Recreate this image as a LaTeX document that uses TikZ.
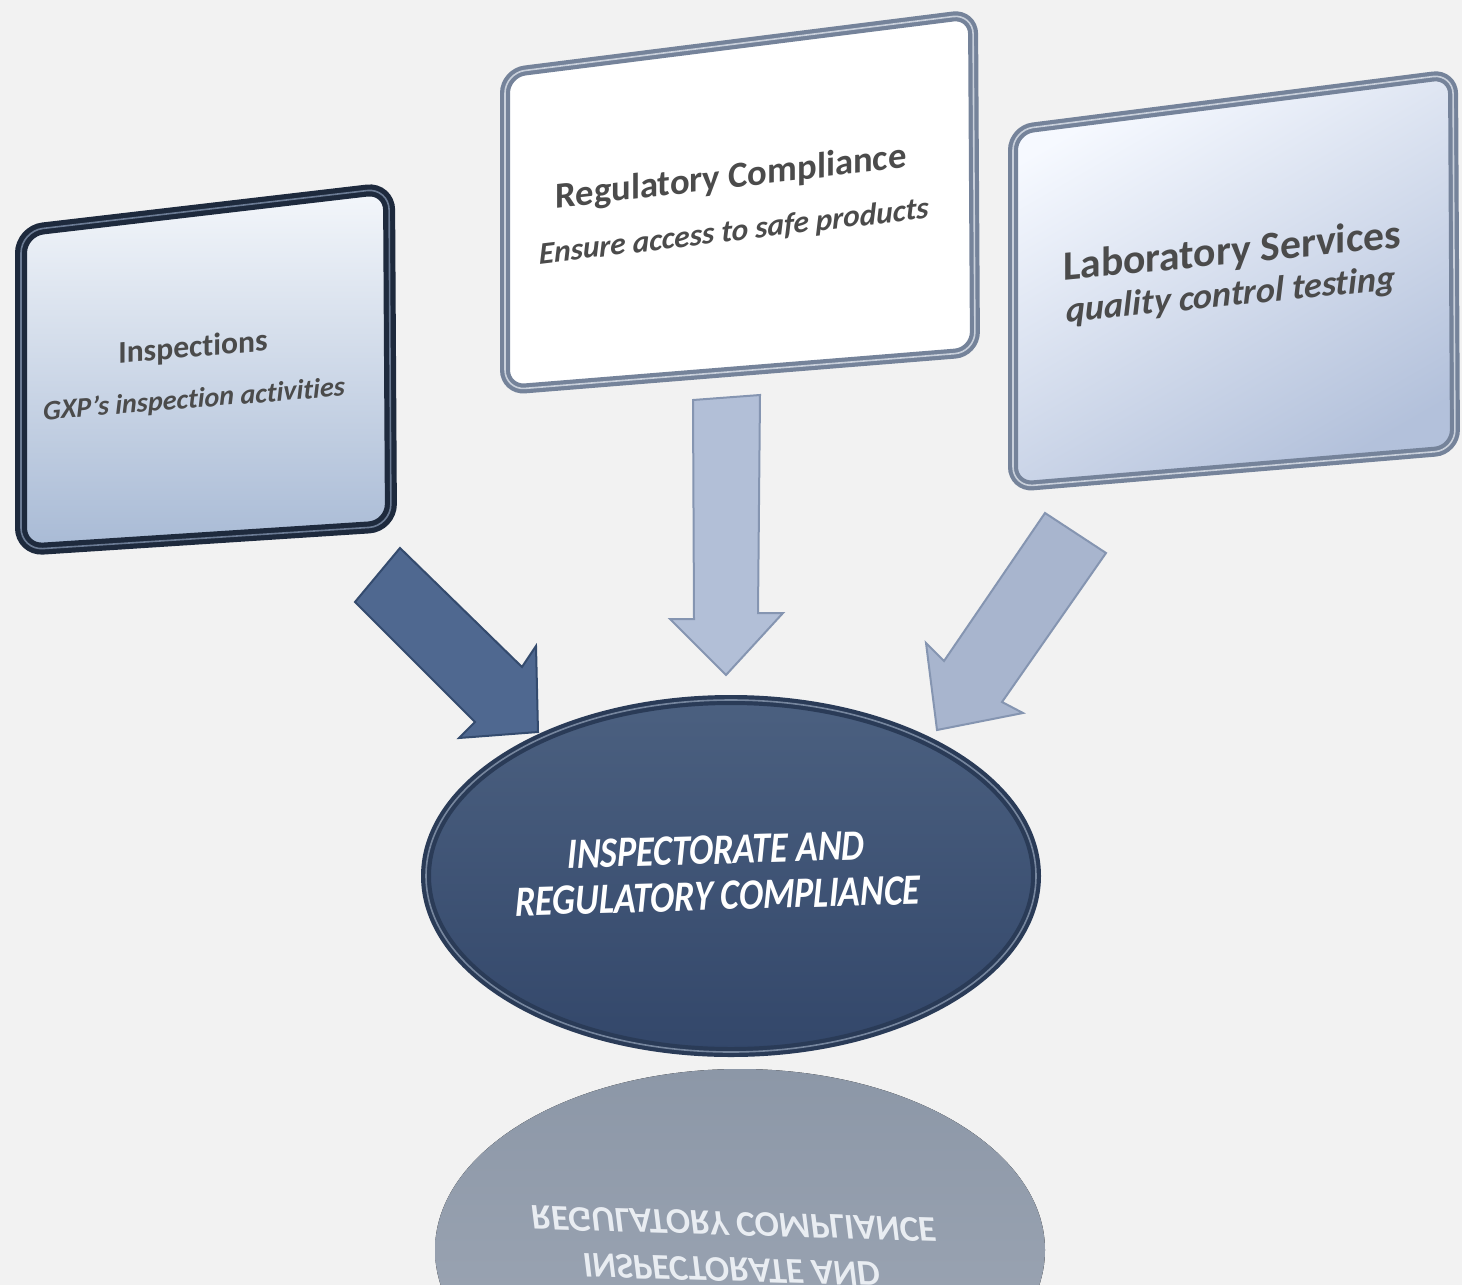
\documentclass[tikz,border=0pt]{standalone}
\usepackage{fontspec}
\setmainfont{Carlito}[Ligatures=NoCommon]
\usetikzlibrary{shapes.geometric}

\definecolor{bgpaper}{HTML}{F2F2F2}
\definecolor{navyframe}{HTML}{1E2A3D}
\definecolor{navyhi}{HTML}{6B7B94}
\definecolor{greyframe}{HTML}{75839A}
\definecolor{greyhi}{HTML}{C9D0DB}
\definecolor{palewhite}{HTML}{F4F7FB}
\definecolor{palemid}{HTML}{D8E3F2}
\definecolor{paleblue}{HTML}{A8BAD5}
\definecolor{labwhite}{HTML}{F6F9FF}
\definecolor{labblue}{HTML}{B3C1DB}
\definecolor{textgrey}{HTML}{4B4B4B}
\definecolor{arrowdark}{HTML}{4F6890}
\definecolor{arrowdarkline}{HTML}{344B6E}
\definecolor{arrowpale}{HTML}{B2BFD7}
\definecolor{arrowpaleline}{HTML}{8595B1}
\definecolor{arrowmid}{HTML}{A8B5CE}
\definecolor{coretop}{HTML}{4B6080}
\definecolor{corebot}{HTML}{33476A}
\definecolor{coreline}{HTML}{2A3B57}
\definecolor{corehi}{HTML}{8A99B0}
\definecolor{mirtop}{HTML}{8C97A7}
\definecolor{mirbot}{HTML}{A0A9B7}
\definecolor{mirtext}{HTML}{E9EDF2}

\begin{document}
\begin{tikzpicture}[x=0.5pt, y=-0.5pt,
    boxtitle/.style={text=textgrey, inner sep=0pt, anchor=base, font=\bfseries\fontsize{#1}{#1}\selectfont},
    boxsub/.style={text=textgrey, inner sep=0pt, anchor=base, font=\bfseries\itshape\fontsize{#1}{#1}\selectfont},
    corelabel/.style={text=#1, inner sep=0pt, anchor=base, yslant=0.03, font=\bfseries\itshape\fontsize{18}{18}\selectfont}]
    \useasboundingbox (0,0) rectangle (1462,1285);
    \clip (0,0) rectangle (1462,1285);
    \fill[bgpaper] (0,0) rectangle (1462,1285);

    % three boxes
    \draw[navyframe, line width=6pt, rounded corners=11pt, top color=palewhite, middle color=palemid, bottom color=paleblue,
          postaction={draw=navyhi, line width=0.8pt, rounded corners=11pt}]
        (21,231) -- (389,188) -- (391,526) -- (21,550) -- cycle;
    \draw[greyframe, line width=5pt, rounded corners=10pt, fill=white,
          postaction={draw=greyhi, line width=0.8pt, rounded corners=10pt}]
        (505,73) -- (973,14) -- (975,352) -- (505,390) -- cycle;
    \draw[greyframe, line width=5pt, rounded corners=10pt, top color=labwhite, bottom color=labblue, shading angle=30,
          postaction={draw=greyhi, line width=0.8pt, rounded corners=10pt}]
        (1013,130) -- (1453,74) -- (1455,450) -- (1013,487) -- cycle;

    \node[boxtitle=15.8, yslant=0.087] (insp) at (193,357) {Inspections};
    \node[boxsub=14.0, yslant=0.08] (inspsub) at (194,408) {GXP’s inspection activities};
    \node[boxtitle=18.3, yslant=0.116] (regc) at (731,188) {Regulatory Compliance};
    \node[boxsub=15.6, yslant=0.119] (regcsub) at (734,241) {Ensure access to safe products};
    \node[boxtitle=20.8, yslant=0.097] (labs) at (1232,264) {Laboratory Services};
    \node[boxsub=18.0, yslant=0.1] (labssub) at (1231,306) {quality control testing};

    % block arrows
    \filldraw[fill=arrowdark, draw=arrowdarkline, line width=1pt]
        (355,602) -- (400,548) -- (522,667) -- (536,646) -- (538,732) -- (459,738) -- (475,722) -- cycle;
    \filldraw[fill=arrowpale, draw=arrowpaleline, line width=1pt]
        (693,400) -- (760,395) -- (758,613) -- (783,613) -- (726,675) -- (670,619) -- (694,619) -- cycle;
    \filldraw[fill=arrowmid, draw=arrowpaleline, line width=1pt]
        (1045,513) -- (1106,553) -- (1002,702) -- (1023,713) -- (937,730) -- (926,643) -- (944,661) -- cycle;

    % reflection
    \fill[top color=mirtop, bottom color=mirbot] (740,1250) ellipse (305 and 181);
    \begin{scope}[shift={(15,2122)}, yscale=-1, transform shape]
        \node[corelabel=mirtext] (rflone) at (716,864) {INSPECTORATE AND};
        \node[corelabel=mirtext] (rfltwo) at (718,910) {REGULATORY COMPLIANCE};
    \end{scope}

    % centre ellipse
    \node[ellipse, draw=coreline, line width=5pt, top color=coretop, bottom color=corebot,
          minimum width=305pt, minimum height=176pt] (core) at (731,876) {};
    \draw[corehi, line width=0.8pt, opacity=0.8] (core.center) ellipse (305 and 176);
    \node[corelabel=white, yscale=1.2] (coreone) at (716,864) {INSPECTORATE AND};
    \node[corelabel=white, yscale=1.2] (coretwo) at (718,910) {REGULATORY COMPLIANCE};
\end{tikzpicture}
\end{document}
